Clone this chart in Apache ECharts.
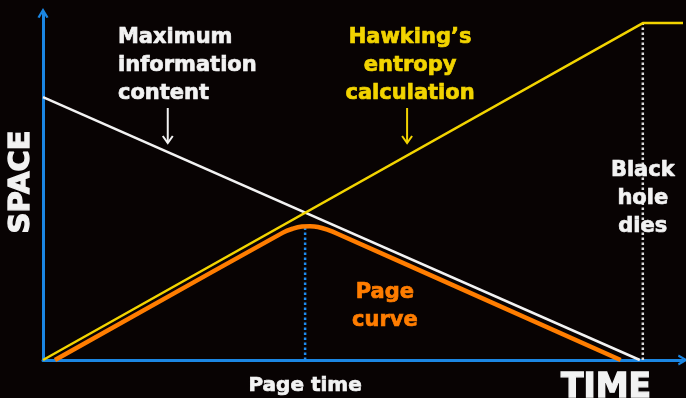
<!DOCTYPE html>
<html><head><meta charset="utf-8">
<script src="https://cdn.jsdelivr.net/npm/echarts@6/dist/echarts.min.js"></script>
<style>html,body{margin:0;padding:0;background:#080303}#c{width:686px;height:398px}</style>
</head><body><div id="c"></div>
<script>
// Time runs from 0 to 100 (the black hole is gone at 100); space uses the same scale.
const maxInfoTime = [0, 99.5];
const maxInfoSpace = [78, 0];
const hawkingTime = [0, 100, 106.7];
const hawkingSpace = [0, 100, 100];
const pageCurveTime = [2.0, 40.0, 41.67, 43.17, 44.5, 45.83, 47.5, 49.17, 96.3];
const pageCurveSpace = [0, 37.8, 39.0, 39.6, 39.7, 39.5, 38.6, 37.4, 0];
const pageTime = 43.7;
const pageTimeSpace = 39.4;
const deathTime = 100;
const deathSpace = 100;

const maxInfoText = ['Maximum', 'information', 'content'];
const hawkingText = ['Hawking\u2019s', 'entropy', 'calculation'];
const deathText = ['Black', 'hole', 'dies'];
const pageCurveText = ['Page', 'curve'];
const pageTimeText = 'Page time';
const xName = 'TIME';
const yName = 'SPACE';

const BLUE = '#1b86e2', WHITE = '#f2f2f2', YELLOW = '#f2d400', ORANGE = '#ff7d00';
const FONT = '"DejaVu Sans", sans-serif';
const chevron = 'path://M0,10 L6,0 L12,10 L9.6,10.8 L6,4.2 L2.4,10.8 Z';

const zip = (xs, ys) => xs.map((x, i) => [x, ys[i]]);

const chart = echarts.init(document.getElementById('c'), null, {renderer: 'canvas'});
const axisCommon = {
  type: 'value', min: 0,
  axisLabel: {show: false}, axisTick: {show: false}, splitLine: {show: false},
  axisLine: {show: true, symbol: ['none', chevron], symbolSize: [15, 10],
             lineStyle: {color: BLUE, width: 3}}
};
chart.setOption({
  backgroundColor: '#080303',
  animation: false,
  grid: {left: 43, right: 3, top: 13, bottom: 38},
  xAxis: Object.assign({}, axisCommon, {max: 106.7}),
  yAxis: Object.assign({}, axisCommon, {max: 103}),
  series: [
    {type: 'line', data: zip([pageTime, pageTime], [0, pageTimeSpace]), symbol: 'none',
     lineStyle: {color: '#1f8cf0', width: 2.5, type: [2.5, 2.5]}, z: 1},
    {type: 'line', data: zip([deathTime, deathTime], [0, deathSpace]), symbol: 'none',
     lineStyle: {color: '#dcdcdc', width: 2.5, type: [2.5, 2.5]}, z: 1},
    {type: 'line', data: zip(pageCurveTime, pageCurveSpace), symbol: 'none', smooth: 0.4,
     lineStyle: {color: ORANGE, width: 4.5}, z: 2},
    {type: 'line', data: zip(maxInfoTime, maxInfoSpace), symbol: 'none',
     lineStyle: {color: WHITE, width: 2.5}, z: 3},
    {type: 'line', data: zip(hawkingTime, hawkingSpace), symbol: 'none',
     lineStyle: {color: YELLOW, width: 2.5}, z: 3}
  ]
});

const px = (x, y) => chart.convertToPixel({gridIndex: 0}, [x, y]);
const LH = 28;
// Heavy display type: bold face plus a thin same-colour outline.
function heavy(text, color, size, align) {
  return {text: text, fill: color, stroke: color, lineWidth: size > 25 ? 1.3 : 0.7,
          font: `bold ${size}px ${FONT}`, align: align, verticalAlign: 'top', lineHeight: LH};
}
function block(lines, x, y, align, color, size) {
  const p = px(x, y);
  return {type: 'text', x: p[0], y: p[1], z: 10, style: heavy(lines.join('\n'), color, size, align)};
}
function downArrow(x, yTop, yBot, color) {
  const a = px(x, yTop), b = px(x, yBot);
  return [
    {type: 'line', z: 10, shape: {x1: a[0], y1: a[1], x2: b[0], y2: b[1]},
     style: {stroke: color, lineWidth: 2}},
    {type: 'polyline', z: 10, shape: {points: [[b[0] - 5, b[1] - 7], [b[0], b[1]], [b[0] + 5, b[1] - 7]]},
     style: {stroke: color, lineWidth: 2, fill: null}}
  ];
}
const origin = px(0, 0);
const pt = px(pageTime, 0);
const mid = (s) => Object.assign(s, {verticalAlign: 'middle'});
chart.setOption({
  graphic: [
    block(maxInfoText, 12.5, 100, 'left', WHITE, 21),
    block(hawkingText, 61.2, 100, 'center', YELLOW, 21),
    block(deathText, deathTime, 60.5, 'center', WHITE, 21),
    block(pageCurveText, 57, 24.3, 'center', ORANGE, 21),
    ...downArrow(20.8, 74.8, 64.4, WHITE),
    ...downArrow(60.7, 74.8, 64.4, YELLOW),
    {type: 'text', x: pt[0], y: origin[1] + 26, z: 10, style: mid(heavy(pageTimeText, WHITE, 20, 'center'))},
    {type: 'text', x: 606, y: origin[1] + 28, z: 10, style: mid(heavy(xName, WHITE, 33, 'center'))},
    {type: 'text', x: 21, y: 182, rotation: Math.PI / 2, z: 10, style: mid(heavy(yName, WHITE, 29, 'center'))}
  ]
});
</script></body></html>
